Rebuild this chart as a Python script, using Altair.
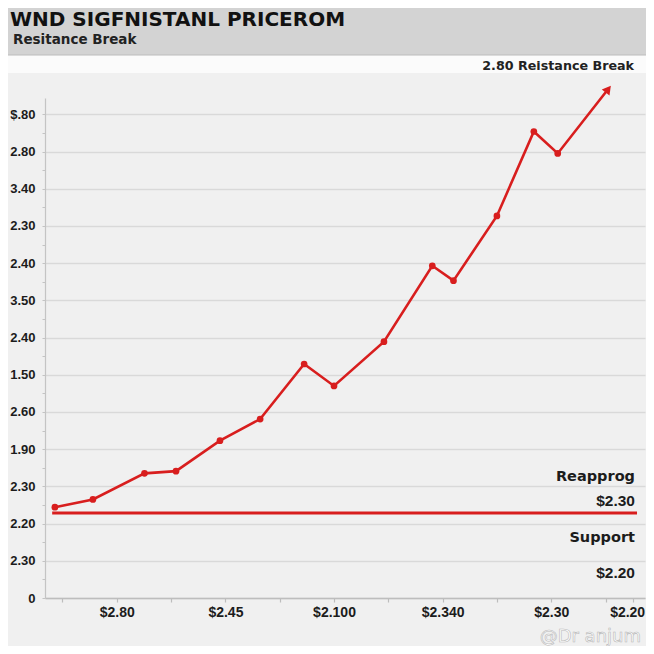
import json
import altair as alt
import pandas as pd

# ---------------- data ----------------
title_text = "WND SIGFNISTANL PRICEROM"
subtitle_text = "Resitance Break"
top_note = "2.80 Reistance Break"

# y axis: evenly spaced grid rows (index 0 = bottom), labels as printed
y_tick_labels = ["0", "2.30", "2.20", "2.30", "1.90", "2.60", "1.50",
                 "2.40", "3.50", "2.40", "2.30", "3.40", "2.80", "$.80"]
# x axis: labelled tick positions (in tick-step units) and their labels
x_label_pos = [1, 3, 5, 7, 9, 10.5]
x_tick_labels = ["$2.80", "$2.45", "$2.100", "$2.340", "$2.30", "$2.20"]

# price path (x in tick steps, y in grid rows); last point = arrow tip
path_x = [-0.14, 0.56, 1.51, 2.09, 2.90, 3.64, 4.45, 5.00, 5.92, 6.81,
          7.20, 8.00, 8.68, 9.12, 10.05]
path_y = [2.44, 2.65, 3.35, 3.41, 4.23, 4.81, 6.29, 5.70, 6.89, 8.93,
          8.53, 10.27, 12.54, 11.95, 13.68]

support_level = 2.285
support_x = [-0.19, 10.58]

right_notes = ["Reapprog", "$2.30", "Support", "$2.20"]
watermark = "@Dr anjum"

# ---------------- styling ----------------
RED = "#d81e1e"
TXT = "#1c1c1c"
BG = "#f0f0f0"

df = pd.DataFrame({"x": path_x, "y": path_y})
df_pts = df.iloc[:-1]
df_tip = df.iloc[-1:]
df_sup = pd.DataFrame({"x": [support_x[0]], "x2": [support_x[1]], "y": [support_level]})
one = pd.DataFrame({"a": [0]})

ylab_js = json.dumps(y_tick_labels)
xpos_js = json.dumps(x_label_pos)
xlab_js = json.dumps(x_tick_labels)

x_scale = alt.Scale(domain=[-0.322, 10.727], nice=False, zero=False)
y_scale = alt.Scale(domain=[0, 13.44], nice=False, zero=False)

x_axis = alt.Axis(
    values=list(range(11)) + [10.5],
    labelExpr=f"indexof({xpos_js}, datum.value) >= 0 ? {xlab_js}[indexof({xpos_js}, datum.value)] : ''",
    grid=False, domainColor="#bdbdbd", domainWidth=1.5,
    tickColor="#bdbdbd", tickSize=4, tickWidth=1.2,
    labelFont="Liberation Sans", labelFontWeight="bold", labelFontSize=14,
    labelColor=TXT, labelPadding=3, labelOverlap=False,
    labelFlush=20, labelFlushOffset=12, title=None)

y_axis = alt.Axis(
    values=[i * 0.5 for i in range(27)],
    labelExpr=f"datum.value % 1 === 0 ? {ylab_js}[datum.value] : ''",
    grid=True,
    gridColor={"condition": {"test": "datum.value % 1 === 0", "value": "#d9d9d9"},
               "value": "transparent"},
    gridWidth=1.3, domainColor="#c4c4c4", domainWidth=1.2,
    tickColor="#c4c4c4", tickSize=3, tickWidth=1,
    labelFont="Liberation Sans", labelFontWeight="bold", labelFontSize=13,
    labelColor=TXT, labelPadding=7, labelOverlap=False, title=None)

X = alt.X("x:Q", scale=x_scale, axis=x_axis)
Y = alt.Y("y:Q", scale=y_scale, axis=y_axis)

# header decoration (outside plot area)
header = alt.Chart(one).mark_rect(color="#d3d3d3").encode(
    x=alt.value(-37), x2=alt.value(601), y=alt.value(-90), y2=alt.value(-43))
band = alt.Chart(one).mark_rect(color="#fbfbfb").encode(
    x=alt.value(-37), x2=alt.value(601), y=alt.value(-43), y2=alt.value(-25))
hline = alt.Chart(one).mark_rule(color="#bcbcbc", strokeWidth=1).encode(
    x=alt.value(-37), x2=alt.value(601), y=alt.value(-43))

title = alt.Chart(one).mark_text(
    align="left", baseline="middle", font="DejaVu Sans", fontWeight="bold",
    fontSize=20, color="#111111").encode(
    x=alt.value(-35), y=alt.value(-78), text=alt.value(title_text))
subtitle = alt.Chart(one).mark_text(
    align="left", baseline="middle", font="DejaVu Sans", fontWeight="bold",
    fontSize=13.5, color="#222222").encode(
    x=alt.value(-32), y=alt.value(-58), text=alt.value(subtitle_text))
note = alt.Chart(one).mark_text(
    align="right", baseline="middle", font="DejaVu Sans", fontWeight="bold",
    fontSize=12.7, color="#222222").encode(
    x=alt.value(589), y=alt.value(-32), text=alt.value(top_note))

support = alt.Chart(df_sup).mark_rule(color=RED, strokeWidth=3).encode(
    x=X, x2="x2:Q", y=Y)

line = alt.Chart(df).mark_line(color=RED, strokeWidth=2.6).encode(x=X, y=Y)
pts = alt.Chart(df_pts).mark_circle(color=RED, size=45, opacity=1).encode(x=X, y=Y)
tip = alt.Chart(df_tip).mark_point(
    shape="triangle-up", filled=True, size=95, angle=38, color=RED, opacity=1
).encode(x=X, y=Y)

note_layers = []
note_y = [379, 403, 440, 475]
for lab, yy in zip(right_notes, note_y):
    is_num = lab.startswith("$")
    note_layers.append(
        alt.Chart(one).mark_text(
            align="right", baseline="middle",
            font="Liberation Sans" if is_num else "DejaVu Sans",
            fontWeight="bold", fontSize=15.5 if is_num else 14.5,
            color=TXT).encode(x=alt.value(590), y=alt.value(yy), text=alt.value(lab)))

wm = alt.Chart(one).mark_text(
    align="right", baseline="middle", font="DejaVu Sans", fontSize=18,
    fill="#ffffff", stroke="#b8b8b8", strokeWidth=0.6).encode(
    x=alt.value(596), y=alt.value(539), text=alt.value(watermark))

chart = alt.layer(
    header, band, hline, title, subtitle, note,
    support, line, pts, tip, *note_layers, wm
).properties(
    width=600, height=500,
    autosize=alt.AutoSizeParams(type="none"),
    padding={"left": 37, "top": 90, "right": 1, "bottom": 48},
    background=BG,
).configure_view(strokeWidth=0, fill=BG)

chart.save("out.html", embed_options={"renderer": "svg", "actions": False})
